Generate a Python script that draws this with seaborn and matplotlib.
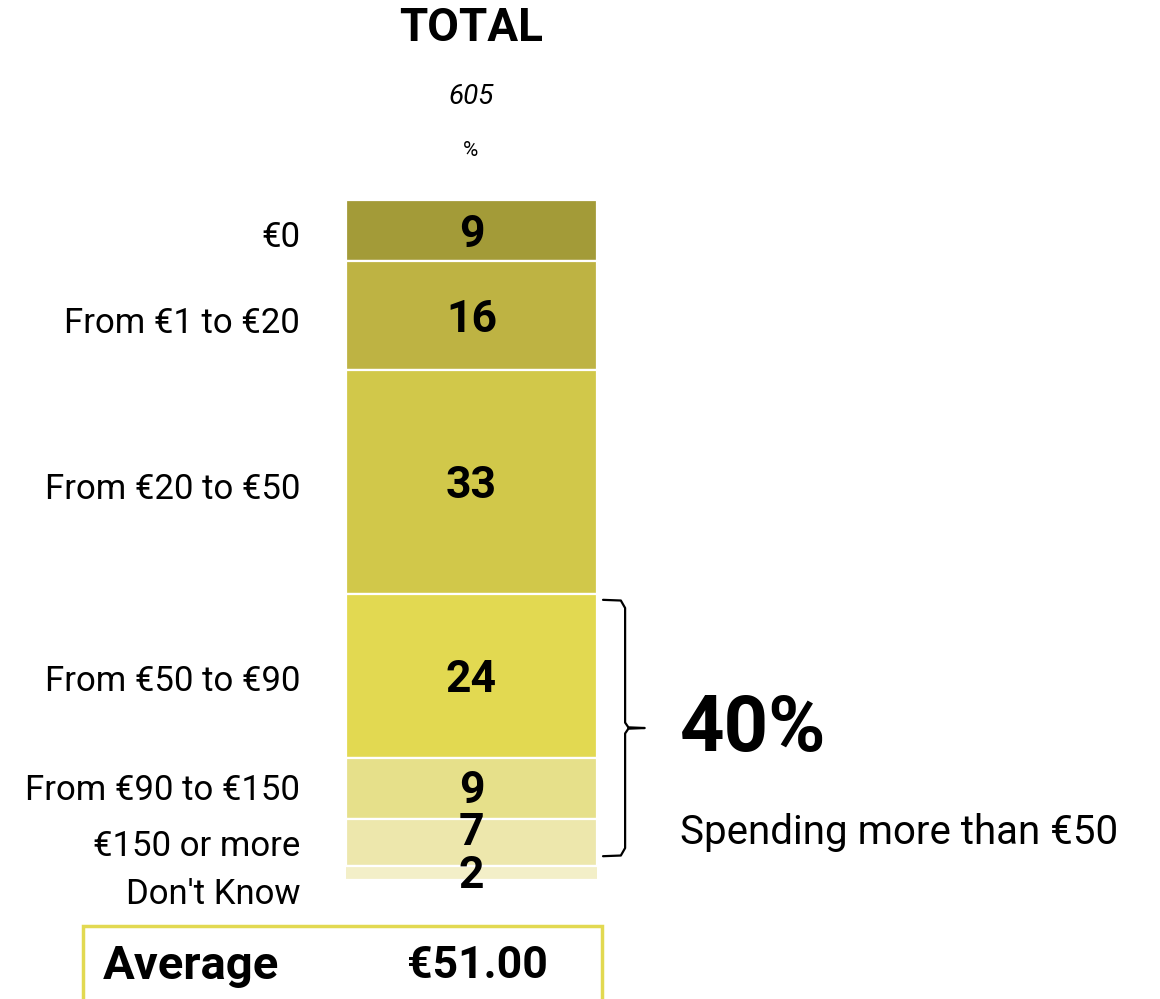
import numpy as np
import matplotlib.pyplot as plt
import matplotlib.patches as patches
import matplotlib.transforms as mtransforms
import seaborn as sns

# data
categories = ['€0', 'From €1 to €20', 'From €20 to €50', 'From €50 to €90',
              'From €90 to €150', '€150 or more', "Don't Know"]
values = [9, 16, 33, 24, 9, 7, 2]
colors = ['#A39B38', '#BEB343', '#D1C84A', '#E2D951', '#E6E08A', '#EDE7AC', '#F3EFC8']
base_n = '605'
share_above_50 = 40
average_spend = '€51.00'

sns.set_theme(style='white')
plt.rcParams['font.family'] = ['Roboto', 'DejaVu Sans']
plt.rcParams['text.color'] = 'black'

fig = plt.figure(figsize=(11.6, 9.99), dpi=100)
W, H = 1160, 999
ax = fig.add_axes([346 / W, 1 - 880 / H, (597 - 346) / W, 680 / H])

bottoms = np.concatenate([[0], np.cumsum(values)[:-1]])
for i, (v, b, c) in enumerate(zip(values, bottoms, colors)):
    sns.barplot(x=['TOTAL'], y=[v], bottom=[b], color=c, width=1.0 if i < 6 else 1.02,
                edgecolor='white', linewidth=1.6, saturation=1, ax=ax)

# value labels, nudged a little like the original (points)
num_shift = [-3, -3, -3, -3, -2, 7, -2]
for i, cont in enumerate(ax.containers):
    anns = ax.bar_label(cont, labels=[str(values[i])], label_type='center',
                        fontsize=32, fontweight='bold', color='black')
    for a in anns:
        a.xyann = (0, num_shift[i])

ax.set_ylim(100, 0)
ax.set_xlim(-0.5, 0.5)
ax.axis('off')

# category labels on the left
lab_trans = mtransforms.blended_transform_factory(ax.transAxes, ax.transData)
label_shift = [-5, -6, -5, -4, -2, -3, -15]  # points
for i, (cat, v, b) in enumerate(zip(categories, values, bottoms)):
    ax.annotate(cat, xy=(0, b + v / 2), xycoords=lab_trans,
                xytext=(-33, label_shift[i]), textcoords='offset points',
                ha='right', va='center', fontsize=25, color='black',
                annotation_clip=False)

# header
fig.text(471 / W, 1 - 28 / H, 'TOTAL', ha='center', va='center',
         fontsize=33, fontweight='bold')
fig.text(471 / W, 1 - 97 / H, base_n, ha='center', va='center',
         fontsize=20, style='italic')
fig.text(471 / W, 1 - 150 / H, '%', ha='center', va='center',
         fontsize=15)

# bracket for > €50
top = bottoms[3] + 0.8
bot = sum(values[:6]) - 1.5
mid = (top + bot) / 2
bx = [1.024, 1.095, 1.112, 1.112, 1.125, 1.19, 1.125, 1.112, 1.112, 1.095, 1.024]
by = [top, top + 0.1, top + 1.2, mid - 0.8, mid - 0.1, mid, mid + 0.1, mid + 0.8,
      bot - 1.2, bot - 0.1, bot]
ax.plot(bx, by, color='black', lw=1.6, transform=lab_trans, clip_on=False,
        solid_joinstyle='round')

fig.text(680 / W, 1 - 730 / H, f'{share_above_50}%', ha='left', va='center',
         fontsize=56, fontweight='bold')
fig.text(680 / W, 1 - 832 / H, 'Spending more than €50', ha='left', va='center',
         fontsize=29)

# average box
rect = patches.Rectangle((83 / W, -0.02), (602 - 83) / W, 0.02 + 1 - 926 / H,
                         transform=fig.transFigure, fill=False,
                         edgecolor='#E2D951', linewidth=2.5, clip_on=False)
fig.patches.append(rect)
fig.text(103 / W, 1 - 966 / H, 'Average', ha='left', va='center',
         fontsize=34, fontweight='bold')
fig.text(477 / W, 1 - 966 / H, average_spend, ha='center', va='center',
         fontsize=32, fontweight='bold')

fig.savefig('out.png', dpi=100)
plt.close(fig)
